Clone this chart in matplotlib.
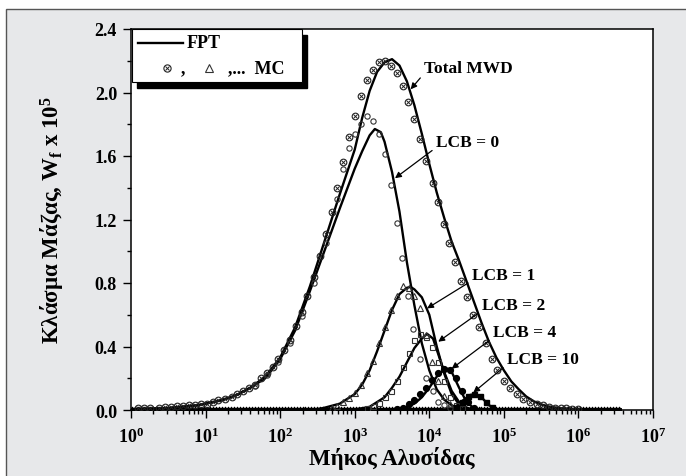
import numpy as np
import matplotlib
matplotlib.use("Agg")
import matplotlib.pyplot as plt
from matplotlib.patches import Rectangle
from matplotlib.ticker import FixedLocator, FuncFormatter, LogLocator, NullFormatter

plt.rcParams['font.family'] = ['Liberation Serif', 'DejaVu Serif']
plt.rcParams['font.weight'] = 'bold'
plt.rcParams['mathtext.fontset'] = 'custom'
plt.rcParams['mathtext.rm'] = 'Liberation Serif:bold'
plt.rcParams['mathtext.bf'] = 'Liberation Serif:bold'
plt.rcParams['mathtext.it'] = 'Liberation Serif:bold'

# FPT curves (log10 of chain length, mass fraction x 1e5)
total_logx = [0, 0.5, 0.9, 1.2, 1.4, 1.6, 1.8, 2.0, 2.2, 2.4, 2.6, 2.8, 3.0, 3.1, 3.2, 3.3,
              3.4, 3.5, 3.6, 3.7, 3.8, 3.9, 4.0, 4.1, 4.2, 4.3, 4.4, 4.5, 4.6, 4.7, 4.8,
              4.9, 5.0, 5.1, 5.2, 5.3, 5.4, 5.5, 5.6, 5.8, 6.0, 6.56]
total_fpt = [0.005, 0.012, 0.03, 0.06, 0.09, 0.14, 0.21, 0.33, 0.52, 0.78, 1.07, 1.36, 1.64, 1.84,
             2.01, 2.13, 2.19, 2.21, 2.17, 2.07, 1.92, 1.74, 1.55, 1.37, 1.21, 1.06, 0.94,
             0.81, 0.68, 0.55, 0.43, 0.33, 0.25, 0.18, 0.13, 0.085, 0.055, 0.035, 0.022,
             0.008, 0.003, 0.0]

lcb0_logx = [0, 0.5, 0.9, 1.2, 1.4, 1.6, 1.8, 2.0, 2.2, 2.4, 2.6, 2.8, 3.0, 3.1, 3.2, 3.27,
             3.35, 3.4, 3.5, 3.6, 3.7, 3.8, 3.9, 4.0, 4.1, 4.2, 4.3, 4.4, 4.5, 6.56]
lcb0_fpt = [0.005, 0.012, 0.03, 0.06, 0.09, 0.14, 0.2, 0.32, 0.5, 0.75, 1.01, 1.27, 1.52, 1.63,
            1.73, 1.77, 1.75, 1.69, 1.50, 1.25, 0.93, 0.66, 0.42, 0.25, 0.13, 0.065, 0.03,
            0.01, 0.0, 0.0]

lcb1_logx = [0, 2.5, 2.6, 2.8, 3.0, 3.1, 3.2, 3.3, 3.4, 3.5, 3.6, 3.7, 3.75, 3.8, 3.9, 4.0,
             4.1, 4.2, 4.3, 4.4, 4.5, 4.6, 6.56]
lcb1_fpt = [0, 0.005, 0.015, 0.04, 0.10, 0.16, 0.25, 0.37, 0.50, 0.63, 0.73, 0.77, 0.775,
            0.76, 0.71, 0.60, 0.40, 0.23, 0.10, 0.035, 0.008, 0.0, 0.0]

lcb2_logx = [0, 3.0, 3.2, 3.3, 3.4, 3.5, 3.6, 3.7, 3.8, 3.9, 3.97, 4.05, 4.1, 4.2, 4.3, 4.4,
             4.5, 4.6, 6.56]
lcb2_fpt = [0, 0.003, 0.02, 0.05, 0.08, 0.14, 0.21, 0.30, 0.39, 0.45, 0.48, 0.45, 0.38, 0.24,
            0.12, 0.05, 0.015, 0.0, 0.0]

lcb4_logx = [0, 3.5, 3.7, 3.8, 3.9, 4.0, 4.1, 4.2, 4.25, 4.3, 4.4, 4.5, 4.6, 4.7, 6.56]
lcb4_fpt = [0, 0.0, 0.02, 0.04, 0.08, 0.14, 0.21, 0.255, 0.26, 0.24, 0.14, 0.05, 0.01, 0.0, 0.0]

lcb10_logx = [0, 4.2, 4.35, 4.45, 4.55, 4.62, 4.7, 4.8, 4.9, 5.0, 6.56]
lcb10_fpt = [0, 0.0, 0.02, 0.06, 0.095, 0.10, 0.08, 0.03, 0.005, 0.0, 0.0]

# MC points
mc_total_logx = [0.10, 0.18, 0.26, 0.38, 0.46, 0.54, 0.62, 0.70, 0.78, 0.86, 0.94, 1.02, 1.10,
                 1.17, 1.26, 1.35, 1.42, 1.50, 1.58, 1.66, 1.74, 1.82, 1.90, 1.97, 2.05, 2.13,
                 2.21, 2.29, 2.36, 2.45, 2.53, 2.61, 2.69, 2.76, 2.84, 2.92, 3.00, 3.08, 3.16,
                 3.25, 3.33, 3.41, 3.49, 3.57, 3.65, 3.72, 3.80, 3.88, 3.96, 4.05, 4.12, 4.20,
                 4.27, 4.34, 4.43, 4.51, 4.59, 4.67, 4.76, 4.84, 4.91, 5.00, 5.08, 5.17, 5.26,
                 5.35, 5.44, 5.52, 5.60, 5.68, 5.76, 5.84, 5.92, 6.00]
mc_total_y = [0.01, 0.01, 0.015, 0.015, 0.02, 0.02, 0.025, 0.025, 0.03, 0.03, 0.035, 0.04, 0.05,
              0.06, 0.07, 0.08, 0.10, 0.12, 0.14, 0.16, 0.20, 0.23, 0.27, 0.32, 0.38, 0.44,
              0.53, 0.62, 0.72, 0.84, 0.97, 1.11, 1.25, 1.40, 1.56, 1.72, 1.85, 1.98, 2.08,
              2.14, 2.19, 2.20, 2.17, 2.12, 2.04, 1.94, 1.83, 1.71, 1.57, 1.43, 1.31, 1.17,
              1.05, 0.93, 0.81, 0.71, 0.60, 0.52, 0.42, 0.32, 0.25, 0.18, 0.14, 0.10, 0.07,
              0.05, 0.04, 0.03, 0.02, 0.015, 0.01, 0.01, 0.005, 0.005]

mc_lcb0_logx = [1.66, 1.82, 1.97, 2.13, 2.29, 2.45, 2.61, 2.76, 2.84, 2.92, 3.00, 3.08, 3.16,
                3.24, 3.33, 3.41, 3.49, 3.57, 3.64, 3.71, 3.78, 3.88, 3.96, 4.05, 4.12, 4.20,
                4.28]
mc_lcb0_y = [0.15, 0.22, 0.30, 0.42, 0.59, 0.80, 1.05, 1.33, 1.52, 1.65, 1.74, 1.80, 1.85,
             1.82, 1.74, 1.61, 1.42, 1.18, 0.96, 0.72, 0.51, 0.32, 0.20, 0.12, 0.05, 0.03, 0.01]

mc_lcb1_logx = [2.69, 2.76, 2.84, 2.92, 3.00, 3.08, 3.16, 3.24, 3.33, 3.41, 3.49, 3.57, 3.65,
                3.73, 3.80, 3.88, 3.96, 4.04, 4.12, 4.20, 4.28, 4.36]
mc_lcb1_y = [0.015, 0.025, 0.05, 0.075, 0.11, 0.16, 0.23, 0.31, 0.42, 0.52, 0.63, 0.72, 0.78,
             0.77, 0.72, 0.64, 0.47, 0.30, 0.18, 0.09, 0.04, 0.015]

mc_lcb2_logx = [3.16, 3.24, 3.32, 3.41, 3.49, 3.57, 3.65, 3.73, 3.80, 3.88, 3.96, 4.04, 4.12,
                4.20, 4.28, 4.36, 4.44]
mc_lcb2_y = [0.01, 0.025, 0.045, 0.08, 0.12, 0.18, 0.27, 0.36, 0.44, 0.48, 0.46, 0.40, 0.30,
             0.18, 0.08, 0.03, 0.01]

mc_lcb4_logx = [3.57, 3.65, 3.73, 3.80, 3.88, 3.96, 4.04, 4.12, 4.20, 4.28, 4.36, 4.44, 4.52,
                4.60]
mc_lcb4_y = [0.005, 0.015, 0.035, 0.06, 0.10, 0.14, 0.19, 0.23, 0.26, 0.25, 0.20, 0.12, 0.05,
             0.015]

mc_lcb10_logx = [4.36, 4.44, 4.52, 4.60, 4.68, 4.76, 4.84]
mc_lcb10_y = [0.02, 0.05, 0.09, 0.10, 0.09, 0.05, 0.02]

# zero-valued MC samples along the baseline
mc_base_logx = np.arange(0.02, 6.58, 0.04)

yticks = [0.0, 0.4, 0.8, 1.2, 1.6, 2.0, 2.4]

fig = plt.figure(figsize=(6.86, 4.77), dpi=100, facecolor='white')
fig.patches.append(Rectangle((6 / 686, -0.01), 1.0, 1 - 10 / 477 + 0.01, transform=fig.transFigure,
                             facecolor='#e7e8ea', edgecolor='#555555', lw=1.0, zorder=-10))
ax = fig.add_axes([131 / 686, 1 - 411 / 477, 522 / 686, 381 / 477])
ax.set_zorder(1)
ax.set_facecolor('white')

p = lambda l: 10 ** np.asarray(l)

for lx, ly in [(total_logx, total_fpt), (lcb0_logx, lcb0_fpt), (lcb1_logx, lcb1_fpt),
               (lcb2_logx, lcb2_fpt), (lcb4_logx, lcb4_fpt), (lcb10_logx, lcb10_fpt)]:
    ax.plot(p(lx), ly, color='black', lw=1.7, zorder=3)

# baseline markers
zeros = np.zeros(len(mc_base_logx))
ax.plot(p(mc_base_logx), zeros + 0.008, '^', ms=3.5, mfc='none', mec='black', mew=0.8, zorder=4)
ax.plot(p(mc_base_logx), zeros, 's', ms=3, mfc='black', mec='black', mew=0.7, zorder=4)

ax.plot(p(mc_total_logx), mc_total_y, 'o', ms=4.8, mfc='none', mec='#222222', mew=0.8, zorder=4)
ax.plot(p(mc_total_logx), mc_total_y, 'x', ms=3.2, mec='#222222', mew=0.7, zorder=4)
ax.plot(p(mc_lcb0_logx), mc_lcb0_y, 'o', ms=3.8, mfc='none', mec='#333333', mew=0.8, zorder=4)
ax.plot(p(mc_lcb1_logx), mc_lcb1_y, '^', ms=4.2, mfc='none', mec='#333333', mew=0.8, zorder=4)
ax.plot(p(mc_lcb2_logx), mc_lcb2_y, 's', ms=3.6, mfc='none', mec='#333333', mew=0.8, zorder=4)
ax.plot(p(mc_lcb4_logx), mc_lcb4_y, 'o', ms=4.2, mfc='black', mec='black', zorder=4)
ax.plot(p(mc_lcb10_logx), mc_lcb10_y, 's', ms=3.6, mfc='black', mec='black', zorder=4)

ax.set_xscale('log')
ax.set_xlim(1, 1e7)
ax.set_ylim(0, 2.4)
ax.xaxis.set_major_locator(LogLocator(base=10, numticks=10))
ax.xaxis.set_minor_locator(LogLocator(base=10, subs=np.arange(2, 10), numticks=100))
ax.xaxis.set_minor_formatter(NullFormatter())
ax.xaxis.set_major_formatter(FuncFormatter(lambda v, pos: r'$\mathbf{10^{%d}}$' % round(np.log10(v))))
ax.yaxis.set_major_locator(FixedLocator(yticks))
ax.yaxis.set_minor_locator(FixedLocator([0.2, 0.6, 1.0, 1.4, 1.8, 2.2]))
ax.yaxis.set_major_formatter(FuncFormatter(lambda v, pos: '%.1f' % v))
ax.tick_params(which='major', direction='out', length=6, width=1, labelsize=13, pad=4)
ax.tick_params(axis='x', which='major', pad=6)
ax.tick_params(which='minor', direction='out', length=3, width=1)
for s in ax.spines.values():
    s.set_linewidth(1.1)

ax.set_xlabel('Μήκος Αλυσίδας', fontsize=16.5, fontweight='bold', labelpad=0)
ax.set_ylabel(r'Κλάσμα Μάζας, W$_\mathbf{f}$ x 10$^\mathbf{5}$', fontsize=16.5,
              fontweight='bold', labelpad=20)

# annotations: (text, arrow tip in data coords, text position in pixels)
ann = dict(arrowstyle='-|>', color='black', lw=0.9, mutation_scale=9)
notes = [('Total MWD', (10 ** 3.75, 2.02), (424, 69)),
         ('LCB = 0', (10 ** 3.54, 1.46), (436, 143)),
         ('LCB = 1', (10 ** 3.97, 0.64), (472, 276)),
         ('LCB = 2', (10 ** 4.12, 0.43), (482, 306)),
         ('LCB = 4', (10 ** 4.30, 0.26), (493, 333)),
         ('LCB = 10', (10 ** 4.59, 0.11), (507, 360))]
for txt, xy, (px, py) in notes:
    ax.annotate(txt, xy=xy, xycoords='data',
                xytext=((px - 131) / 522, (411 - py) / 381), textcoords='axes fraction',
                fontsize=12.5, fontweight='bold', ha='left', va='center',
                arrowprops=dict(ann, shrinkA=1, shrinkB=0, relpos=(0, 0.15)), zorder=6)

# legend box drawn by hand
lx0, lx1 = (132 - 131) / 522, (302 - 131) / 522
ly0, ly1 = (411 - 83) / 381, 1.0
ax.add_patch(Rectangle((lx0 + 5 / 522, ly0 - 6 / 381), lx1 - lx0, ly1 - ly0, transform=ax.transAxes,
                       facecolor='black', edgecolor='black', zorder=7, clip_on=False))
ax.add_patch(Rectangle((lx0, ly0), lx1 - lx0, ly1 - ly0, transform=ax.transAxes,
                       facecolor='white', edgecolor='black', lw=0.8, zorder=8, clip_on=False))
yr1 = (411 - 44) / 381
yr2 = (411 - 69) / 381
ax.plot([(138 - 131) / 522, (183 - 131) / 522], [yr1, yr1], color='black', lw=1.7,
        transform=ax.transAxes, zorder=9, clip_on=False)
ax.text((187 - 131) / 522, yr1, 'FPT', transform=ax.transAxes, fontsize=13, fontweight='bold',
        va='center', ha='left', zorder=9)
ax.plot([(167 - 131) / 522], [yr2], 'o', ms=5.2, mfc='none', mec='#222222', mew=0.8,
        transform=ax.transAxes, zorder=9, clip_on=False)
ax.plot([(167 - 131) / 522], [yr2], 'x', ms=3.4, mec='#222222', mew=0.7,
        transform=ax.transAxes, zorder=9, clip_on=False)
ax.text((181 - 131) / 522, yr2, ',', transform=ax.transAxes, fontsize=13, fontweight='bold',
        va='center', ha='left', zorder=9)
ax.plot([(209 - 131) / 522], [yr2], '^', ms=6, mfc='none', mec='#333333', mew=0.8,
        transform=ax.transAxes, zorder=9, clip_on=False)
ax.text((228 - 131) / 522, yr2, ',...  MC', transform=ax.transAxes, fontsize=13, fontweight='bold',
        va='center', ha='left', zorder=9)

fig.savefig('out.png', dpi=100, facecolor=fig.get_facecolor())
